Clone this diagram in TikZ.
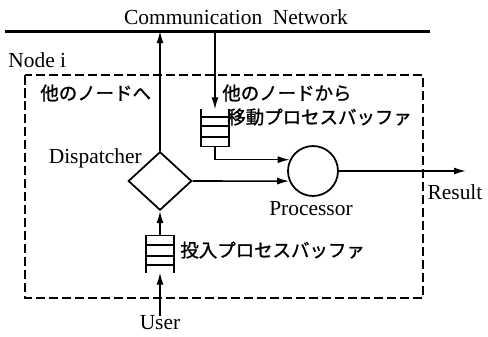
\documentclass[tikz,border=0pt]{standalone}
\usepackage{fontspec}
\setmainfont{Liberation Serif}
\newfontfamily\jpfont[FakeBold=1.2]{Noto Sans CJK JP}
\usetikzlibrary{shapes.geometric,arrows.meta,calc}

\tikzset{
  flow/.style={line width=0.9pt,-{Latex[length=2.4mm,width=1.4mm]}},
  bufline/.style={line width=0.9pt},
  lbl/.style={font=\fontsize{12.2}{14}\selectfont,inner sep=0pt},
  jlbl/.style={font=\fontsize{10.5}{12}\selectfont\jpfont,inner sep=0pt},
  pbuf/.style={minimum width=0.54cm,minimum height=0.73cm,inner sep=0pt},
}

\begin{document}
\begin{tikzpicture}[x=0.02cm,y=-0.02cm]

        \useasboundingbox (0,0) rectangle (488,336);

        % communication network
        \coordinate (netL) at (5,31);
        \coordinate (netR) at (430,31);
        \draw[line width=1.7pt] (netL) -- (netR);
        \node[lbl] (netlbl) at (236,17) {Communication\ \ Network};

        % node i
        \node[lbl, anchor=west] (nodelbl) at (8,60) {Node i};
        \draw[line width=0.8pt, dash pattern=on 1.9mm off 0.7mm] (25,75) rectangle (423,298);

        \node[jlbl, anchor=west] (tolbl) at (40,93) {他のノードへ};
        \node[jlbl, anchor=west] (fromlbl) at (222,93) {他のノードから};

        % dispatcher and processor
        \node[diamond, draw, line width=1pt, minimum width=1.27cm, minimum height=1.17cm, inner sep=0pt] (disp) at (160,181) {};
        \node[lbl, anchor=east] (displbl) at (142,158) {Dispatcher};

        \node[circle, draw, line width=1pt, minimum size=1cm, inner sep=0pt] (proc) at (313,171) {};
        \node[lbl] (proclbl) at (311,209) {Processor};

        \coordinate (out) at (466,171);
        \node[lbl] (reslbl) at (455,192) {Result};

        % migrated process buffer
        \node[pbuf] (mvbuf) at (215,128) {};
        \draw[bufline] (mvbuf.north west) -- (mvbuf.south west) -- (mvbuf.south east) -- (mvbuf.north east);
        \foreach \f in {0.26,0.55,0.8}
            \draw[bufline] ($(mvbuf.south west)!\f!(mvbuf.north west)$) -- ($(mvbuf.south east)!\f!(mvbuf.north east)$);
        \node[jlbl, anchor=west] (mvlbl) at (227,117) {移動プロセスバッファ};

        % input process buffer
        \node[pbuf] (inbuf) at (160,254) {};
        \draw[bufline] (inbuf.south west) -- (inbuf.north west) -- (inbuf.north east) -- (inbuf.south east);
        \foreach \f in {0.26,0.55,0.8}
            \draw[bufline] ($(inbuf.north west)!\f!(inbuf.south west)$) -- ($(inbuf.north east)!\f!(inbuf.south east)$);
        \node[jlbl, anchor=west] (inlbl) at (180,250) {投入プロセスバッファ};

        \node[lbl] (userlbl) at (160,323) {User};

        % connectors
        \draw[flow] (userlbl.north) -- (inbuf.south);
        \draw[flow] (inbuf.north) -- (disp.south);
        \draw[flow] (disp.north) -- (disp.north |- netL);
        \draw[flow] (mvbuf.north |- netL) -- (mvbuf.north);
        \draw[flow] (mvbuf.south) |- (proc.154);
        \draw[flow] (disp.east) -- (proc.203.6);
        \draw[flow] (proc.east) -- (out);

    \end{tikzpicture}
\end{document}
